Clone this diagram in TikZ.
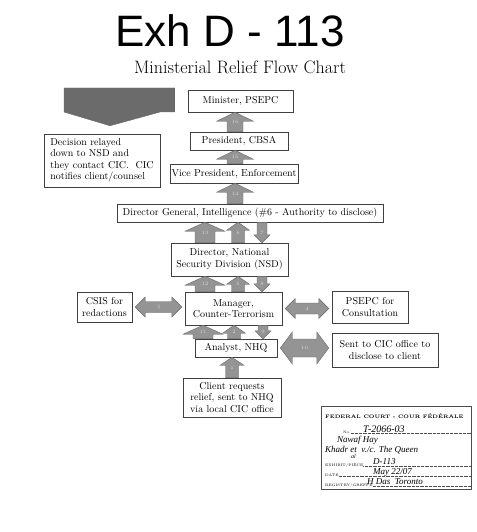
\documentclass[tikz,border=0pt]{standalone}
\usepackage{fontspec}
\newfontfamily\markerfont{Liberation Sans}
\newfontfamily\handfont{Liberation Serif}
\usetikzlibrary{calc}

% vertical block arrow: tail anchor, tip anchor, x, half shaft, half head, head length, label
\newcommand\vblock[7]{%
  \path[blockarrow] let \p1=(#3,0 |- #1), \p2=(#3,0 |- #2), \p3=($(\p2)!#6pt!(\p1)$) in
    ({\x1-#4pt},\y1) -- ({\x1-#4pt},\y3) -- ({\x1-#5pt},\y3) -- (\p2)
    -- ({\x1+#5pt},\y3) -- ({\x1+#4pt},\y3) -- ({\x1+#4pt},\y1) -- cycle
    ({\x1},{(\y1+\y2)/2}) node[arrlabel] {#7};
}
% horizontal double block arrow: left node, right node, half shaft, half head, head length, label
\newcommand\hblock[6]{%
  \path[blockarrow] let \p1=($(#1)+(3pt,0)$), \p2=($(#1 -| #2)-(3pt,0)$) in
    (\p1) -- ({\x1+#5pt},{\y1+#4pt}) -- ({\x1+#5pt},{\y1+#3pt}) -- ({\x2-#5pt},{\y1+#3pt})
    -- ({\x2-#5pt},{\y1+#4pt}) -- (\p2) -- ({\x2-#5pt},{\y1-#4pt}) -- ({\x2-#5pt},{\y1-#3pt})
    -- ({\x1+#5pt},{\y1-#3pt}) -- ({\x1+#5pt},{\y1-#4pt}) -- cycle
    ({(\x1+\x2)/2},\y1) node[arrlabel] {#6};
}

\begin{document}
\begin{tikzpicture}[x=1pt, y=-1pt,
    box/.style={draw=black!75, line width=0.5pt, fill=white, align=center,
                font=\fontsize{10}{11.5}\selectfont, inner sep=1pt},
    blockarrow/.style={fill=black!42, draw=black!60, line width=0.4pt},
    arrlabel/.style={font=\fontsize{5}{5}\selectfont, text=black!15, inner sep=0pt},
    stamptext/.style={font=\fontsize{3.6}{4}\selectfont, inner sep=0pt, anchor=base west},
    handtext/.style={font=\handfont\itshape\fontsize{9}{9}\selectfont, inner sep=0pt, anchor=base west},
    fillline/.style={densely dotted, line width=0.3pt, black!70}]
  \useasboundingbox (0,0) rectangle (476,532);

  % exhibit mark and title
  \node[font=\markerfont\fontsize{44}{44}\selectfont] (exh) at (230,31) {Exh D - 113};
  \node[font=\fontsize{18}{20}\selectfont] (title) at (240,67) {Ministerial Relief Flow Chart};

  % chain of command
  \node[box, minimum width=105pt, minimum height=22pt] (minister) at (240.5,101) {Minister, PSEPC};
  \node[box, minimum width=98pt, minimum height=18pt] (president) at (239,141) {President, CBSA};
  \node[box, minimum width=128pt, minimum height=19pt] (vp) at (234,173.5) {Vice President, Enforcement};
  \node[box, minimum width=266pt, minimum height=18pt] (dg) at (250,213) {Director General, Intelligence (\#6 - Authority to disclose)};
  \node[box, minimum width=117pt, minimum height=33pt] (nsd) at (229.5,259.5) {Director, National\\Security Division (NSD)};
  \node[box, minimum width=97pt, minimum height=33pt] (manager) at (233.5,308.5) {Manager,\\Counter-Terrorism};
  \node[box, minimum width=82pt, minimum height=18pt] (analyst) at (236,348) {Analyst, NHQ};
  \node[box, minimum width=98pt, minimum height=39pt] (client) at (232,397.5) {Client requests\\relief, sent to NHQ\\via local CIC office};

  % side boxes
  \node[box, align=left, minimum width=116pt, minimum height=53pt] (decision) at (102,160.5)
    {Decision relayed\\down to NSD and\\they contact CIC.\ \ CIC\\notifies client/counsel};
  \node[box, minimum width=55pt, minimum height=30pt] (csis) at (104.5,307) {CSIS for\\redactions};
  \node[box, minimum width=76pt, minimum height=32pt] (psepc) at (370,307) {PSEPC for\\Consultation};
  \node[box, minimum width=106pt, minimum height=34pt] (sent) at (385,350) {Sent to CIC office to\\disclose to client};

  % block arrows up the chain
  \vblock{president.north}{minister.south}{235}{8}{18.5}{9}{16}
  \vblock{vp.north}{president.south}{235}{8}{18.5}{9}{15}
  \vblock{dg.north}{vp.south}{235}{8}{18.5}{9}{14}
  \vblock{nsd.north}{dg.south}{205}{10}{20}{9}{13}
  \vblock{nsd.north}{dg.south}{238}{6.5}{11.5}{8}{6}
  \vblock{dg.south}{nsd.north}{262}{5}{8}{8}{7}
  \vblock{manager.north}{nsd.south}{205}{10}{20}{9}{12}
  \vblock{manager.north}{nsd.south}{238}{6.5}{11.5}{8}{5}
  \vblock{nsd.south}{manager.north}{262}{5}{8}{8}{8}
  \vblock{analyst.north}{manager.south}{203}{10}{20}{9}{11}
  \vblock{analyst.north}{manager.south}{234}{6.5}{11.5}{8}{2}
  \vblock{manager.south}{analyst.north}{263}{5}{8}{8}{9}
  \vblock{client.north}{analyst.south}{232}{6.5}{12}{8}{1}

  % consultations
  \hblock{csis.east}{manager.west}{5.5}{10}{10}{3}
  \hblock{manager.east}{psepc.west}{5.5}{10}{10}{4}
  \hblock{analyst.east}{sent.west}{9}{16}{12}{10}

  % decision relayed down
  \path[blockarrow, fill=black!58] let \p1=(minister.west), \p2=(decision.north) in
    ({\x1-13pt},{\y1+13pt}) -- ({\x2-38pt},{\y1+13pt}) -- ({\x2-38pt},{\y1-11pt})
    -- ({\x2+8pt},{\y2+8pt}) -- ({\x2+58pt},{\y1-11pt}) -- ({\x1-13pt},{\y1-11pt}) -- cycle;

  % court stamp
  \node[draw=black!70, line width=0.5pt, minimum width=150pt, minimum height=83pt,
        anchor=north west] (stamp) at (321,406) {};
  \node[stamptext, font=\bfseries\fontsize{5}{5}\selectfont] (court) at ($(stamp.north west)+(4,12)$)
    {FEDERAL COURT - COUR F\'ED\'ERALE};
  \node[stamptext] (no) at ($(stamp.north west)+(22,27)$) {No.};
  \draw[fillline] (no.base east) -- (no.base east -| stamp.east);
  \node[handtext, font=\handfont\itshape\fontsize{10}{10}\selectfont] (docket) at ($(stamp.north west)+(42,26)$) {T-2066-03};
  \node[handtext] (name1) at ($(stamp.north west)+(16,36)$) {Nawaf Hay};
  \node[handtext] (name2) at ($(stamp.north west)+(4,46)$) {Khadr et \ v./c. The Queen};
  \node[handtext, font=\handfont\itshape\fontsize{6}{6}\selectfont] (name3) at ($(stamp.north west)+(30,52)$) {al};
  \node[stamptext] (exhibit) at ($(stamp.north west)+(4,60)$) {EXHIBIT/PI\`ECE};
  \draw[fillline] (exhibit.base east) -- (exhibit.base east -| stamp.east);
  \node[handtext] (exhno) at ($(stamp.north west)+(52,58)$) {D-113};
  \node[stamptext] (date) at ($(stamp.north west)+(4,70)$) {DATE};
  \draw[fillline] (date.base east) -- (date.base east -| stamp.east);
  \node[handtext] (dateval) at ($(stamp.north west)+(52,68)$) {May 22/07};
  \node[stamptext] (registry) at ($(stamp.north west)+(4,80)$) {REGISTRY/GREFFE};
  \draw[fillline] (registry.base east) -- (registry.base east -| stamp.east);
  \node[handtext] (officer) at ($(stamp.north west)+(46,78)$) {H Das \ Toronto};
\end{tikzpicture}
\end{document}
